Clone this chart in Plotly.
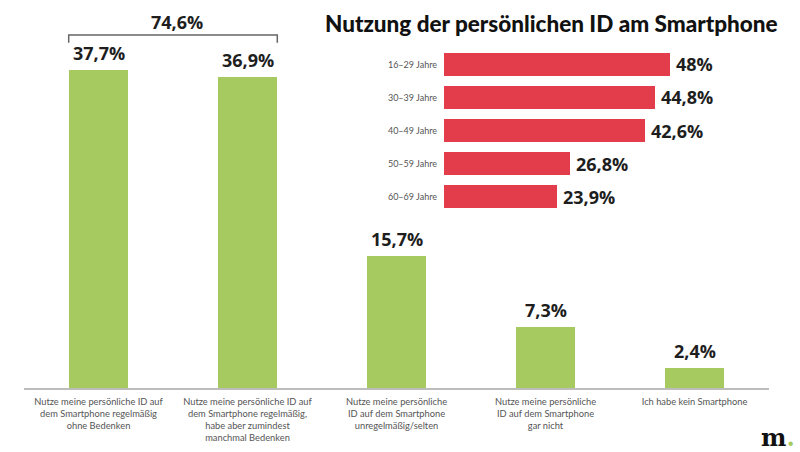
import plotly.graph_objects as go

# ---- data ----
categories = [
    "Nutze meine persönliche ID auf<br>dem Smartphone regelmäßig<br>ohne Bedenken",
    "Nutze meine persönliche ID auf<br>dem Smartphone regelmäßig,<br>habe aber zumindest<br>manchmal Bedenken",
    "Nutze meine persönliche<br>ID auf dem Smartphone<br>unregelmäßig/selten",
    "Nutze meine persönliche<br>ID auf dem Smartphone<br>gar nicht",
    "Ich habe kein Smartphone",
]
values = [37.7, 36.9, 15.7, 7.3, 2.4]

age_groups = ["16–29 Jahre", "30–39 Jahre", "40–49 Jahre", "50–59 Jahre", "60–69 Jahre"]
age_values = [48.0, 44.8, 42.6, 26.8, 23.9]

title_text = "Nutzung der persönlichen ID am Smartphone"


def de(v):
    s = f"{v:.1f}".replace(".", ",")
    if s.endswith(",0"):
        s = s[:-2]
    return s + "%"


GREEN = "#a7ca60"
RED = "#e33c4b"
TXT = "#1e1e1e"
GRAY = "#555555"
LABEL_FONT = dict(family="Open Sans", size=18, color=TXT, weight="bold")

fig = go.Figure()

xs = list(range(len(categories)))
fig.add_trace(go.Bar(
    x=xs, y=values, width=0.4,
    marker=dict(color=GREEN, line=dict(width=0)),
    xaxis="x", yaxis="y", hoverinfo="skip",
))
for x, v in zip(xs, values):
    fig.add_annotation(x=x, y=v, xref="x", yref="y", text=de(v), showarrow=False,
                       yanchor="bottom", yshift=3, font=LABEL_FONT)

fig.add_trace(go.Bar(
    y=age_groups, x=age_values, orientation="h", width=0.68,
    marker=dict(color=RED, line=dict(width=0)),
    xaxis="x2", yaxis="y2", hoverinfo="skip",
))
for g, v in zip(age_groups, age_values):
    fig.add_annotation(x=v, y=g, xref="x2", yref="y2", text=de(v), showarrow=False,
                       xanchor="left", xshift=4, font=LABEL_FONT)

# bracket over first two bars
total = values[0] + values[1]
by = max(values[0], values[1]) + 4.2
bx0, bx1 = 0 - 0.2, 1 + 0.2
fig.add_shape(type="path", xref="x", yref="y",
              path=f"M {bx0} {by-0.9} L {bx0} {by} L {bx1} {by} L {bx1} {by-0.9}",
              line=dict(color="#666666", width=1.5))
fig.add_annotation(x=0.53, y=by + 1.6, xref="x", yref="y", text=de(total),
                   showarrow=False, yanchor="middle", font=LABEL_FONT)

# title
fig.add_annotation(x=1.0148, y=0.962, xref="paper", yref="paper", xanchor="right",
                   yanchor="middle", text=title_text, showarrow=False,
                   font=dict(family="Lato", size=22.5, color="#111", weight=900))

# logo
fig.add_annotation(x=1.037, y=-0.13, xref="paper", yref="paper", xanchor="right",
                   yanchor="middle", showarrow=False,
                   text="<b>m</b><span style='color:" + GREEN + "'><b>.</b></span>",
                   font=dict(family="DejaVu Serif", size=24, color="#111"))

fig.update_layout(
    width=800, height=452,
    margin=dict(l=24, r=31, t=9, b=64, autoexpand=False),
    paper_bgcolor="white", plot_bgcolor="white",
    showlegend=False, bargap=0,
    xaxis=dict(domain=[0, 1], range=[-0.5, 4.5], tickmode="array",
               tickvals=xs, ticktext=categories, automargin=False,
               tickangle=0, tickfont=dict(family="Lato", size=9.3, color=GRAY),
               ticklabelstandoff=4,
               showline=True, linecolor="#bdbdbd", linewidth=1.5, showgrid=False,
               zeroline=False, ticks="", fixedrange=True),
    yaxis=dict(domain=[0, 1], range=[0, 45], visible=False, showgrid=False,
               automargin=False, zeroline=False, fixedrange=True),
    xaxis2=dict(domain=[0.5638, 0.9436], range=[0, 60], anchor="y2", visible=False,
                automargin=False, showgrid=False, zeroline=False, fixedrange=True),
    yaxis2=dict(domain=[0.4617, 0.8971], anchor="x2", autorange="reversed",
                tickfont=dict(family="Lato", size=9, color=GRAY), automargin=False,
                showgrid=False, zeroline=False, showline=False, ticks="",
                ticklabelstandoff=6, fixedrange=True),
)

fig.write_html("out.html")
